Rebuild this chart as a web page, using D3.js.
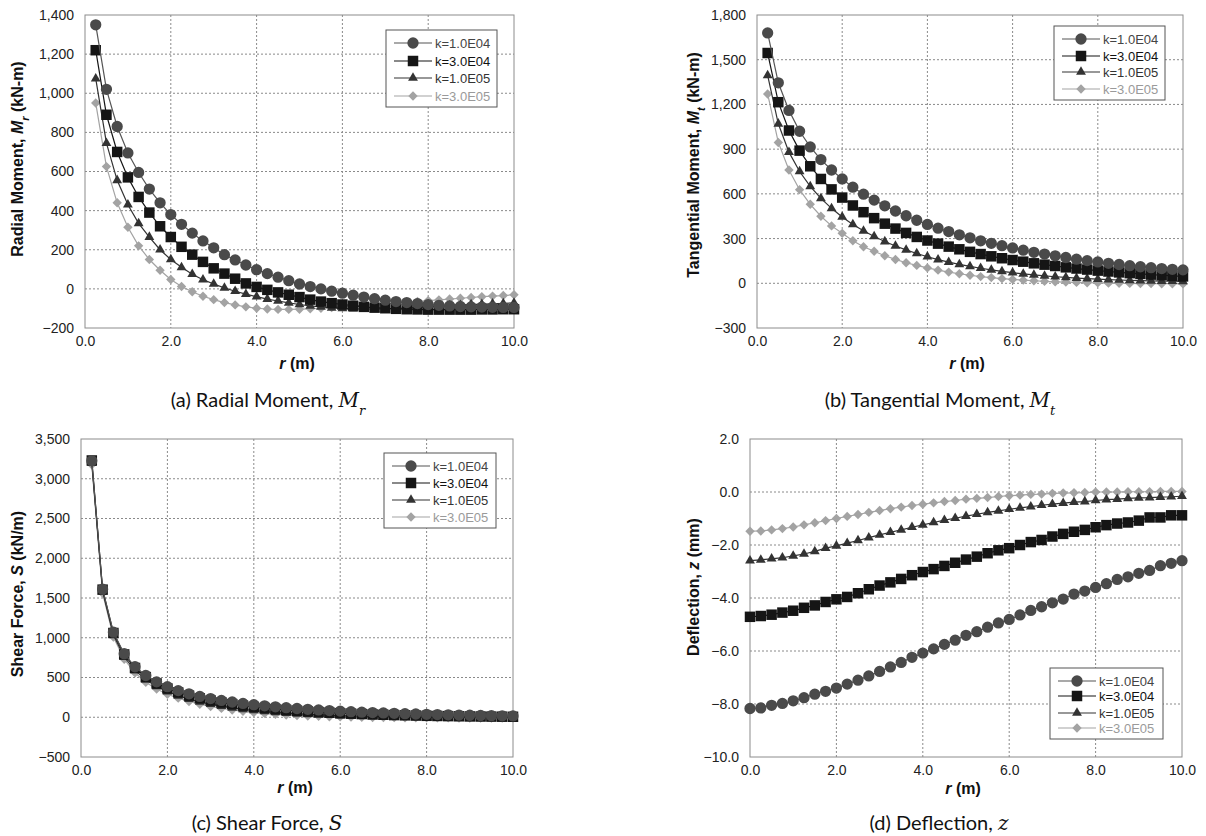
<!DOCTYPE html>
<html>
<head>
<meta charset="utf-8">
<script src="https://cdn.jsdelivr.net/npm/d3@7"></script>
<style>
  html, body { margin: 0; padding: 0; background: #fff; }
  svg { display: block; }
</style>
</head>
<body>
<svg id="chart" width="1206" height="836"></svg>
<script>
// ---------------- DATA ----------------
const seriesNames = ["k=1.0E04", "k=3.0E04", "k=1.0E05", "k=3.0E05"];

const rABC = [0.25,0.5,0.75,1.0,1.25,1.5,1.75,2.0,2.25,2.5,2.75,3.0,3.25,3.5,3.75,4.0,4.25,4.5,4.75,5.0,
              5.25,5.5,5.75,6.0,6.25,6.5,6.75,7.0,7.25,7.5,7.75,8.0,8.25,8.5,8.75,9.0,9.25,9.5,9.75,10.0];
const rD = [0.0,0.25,0.5,0.75,1.0,1.25,1.5,1.75,2.0,2.25,2.5,2.75,3.0,3.25,3.5,3.75,4.0,4.25,4.5,4.75,5.0,
            5.25,5.5,5.75,6.0,6.25,6.5,6.75,7.0,7.25,7.5,7.75,8.0,8.25,8.5,8.75,9.0,9.25,9.5,9.75,10.0];

// (a) Radial moment Mr (kN-m)
const mrK1 = [1350,1020,830,695,595,510,440,380,330,285,245,210,175,148,122,98,78,60,42,25,
              12,0,-12,-22,-32,-42,-50,-58,-65,-70,-75,-80,-84,-87,-90,-92,-93,-94,-95,-95];
const mrK2 = [1220,890,700,570,470,390,320,265,215,175,138,105,78,52,28,10,-5,-18,-30,-42,
              -55,-65,-73,-80,-86,-92,-96,-99,-102,-104,-105,-106,-106,-106,-106,-106,-105,-105,-104,-104];
const mrK3 = [1075,745,555,430,335,265,200,150,110,75,47,25,5,-12,-27,-40,-52,-62,-72,-80,
              -87,-92,-97,-100,-102,-103,-103,-102,-100,-98,-95,-92,-89,-86,-83,-80,-78,-76,-74,-72];
const mrK4 = [950,625,440,315,220,150,95,48,12,-15,-38,-55,-70,-82,-92,-99,-103,-105,-105,-104,
              -102,-99,-96,-92,-88,-84,-80,-76,-72,-68,-64,-60,-56,-52,-48,-44,-40,-37,-34,-30];

// (b) Tangential moment Mt (kN-m)
const mtK1 = [1680,1345,1160,1020,915,830,760,700,645,598,558,520,485,453,423,395,370,347,325,305,
              285,268,252,237,222,208,196,184,173,162,152,143,134,126,118,111,105,99,94,90];
const mtK2 = [1545,1215,1025,890,785,700,630,575,522,477,437,400,367,338,311,287,266,246,228,211,
              196,181,168,156,145,134,125,116,107,99,92,85,79,73,68,63,58,54,50,46];
const mtK3 = [1395,1070,880,750,650,570,503,445,395,352,314,280,250,224,200,178,159,142,127,113,
              101,90,80,71,63,56,50,44,39,35,31,28,25,22,20,18,16,15,14,13];
const mtK4 = [1270,945,760,628,530,450,385,335,285,245,215,185,160,138,120,103,88,75,64,54,
              45,38,31,26,21,17,13,10,8,6,4,3,1,0,-1,-2,-2,-3,-3,-4];

// (c) Shear force S (kN/m)
const sK1 = [3225,1610,1070,800,635,525,445,385,335,295,262,235,212,192,174,158,144,131,120,110,
             100,92,84,77,70,64,59,54,49,45,41,37,34,31,28,25,22,20,18,16];
const sK2 = [3230,1605,1060,790,620,505,425,362,312,272,238,210,186,165,146,130,116,103,92,82,
             73,65,58,51,45,40,35,31,27,24,21,18,16,14,12,10,9,8,7,6];
const sK3 = [3200,1585,1035,760,590,472,388,322,270,228,193,164,139,118,100,85,72,61,51,43,
             36,30,25,20,16,13,10,8,6,4,3,2,1,0,0,-1,-1,-1,-1,-1];
const sK4 = [3175,1560,1010,730,560,440,355,290,240,198,164,135,111,91,74,60,48,38,29,22,
             16,11,7,4,1,-1,-3,-4,-5,-6,-7,-7,-8,-8,-9,-9,-9,-10,-10,-10];

// (d) Deflection z (mm)
const zK1 = [-8.17,-8.15,-8.05,-7.98,-7.88,-7.76,-7.63,-7.52,-7.40,-7.25,-7.10,-6.94,-6.77,-6.60,-6.43,-6.24,
             -6.08,-5.92,-5.75,-5.59,-5.41,-5.27,-5.10,-4.94,-4.81,-4.64,-4.47,-4.33,-4.18,-4.04,-3.85,-3.74,
             -3.60,-3.46,-3.30,-3.20,-3.07,-2.96,-2.78,-2.69,-2.59];
const zK2 = [-4.71,-4.68,-4.63,-4.55,-4.48,-4.37,-4.28,-4.15,-4.05,-3.96,-3.82,-3.67,-3.53,-3.41,-3.28,-3.14,
             -3.02,-2.91,-2.79,-2.67,-2.55,-2.44,-2.31,-2.20,-2.12,-2.00,-1.89,-1.81,-1.68,-1.58,-1.50,-1.43,
             -1.33,-1.25,-1.19,-1.15,-1.08,-0.96,-0.96,-0.88,-0.88];
const zK3 = [-2.59,-2.56,-2.52,-2.48,-2.41,-2.34,-2.24,-2.12,-2.03,-1.93,-1.83,-1.72,-1.62,-1.52,-1.43,-1.33,
             -1.24,-1.15,-1.06,-0.99,-0.91,-0.84,-0.77,-0.71,-0.65,-0.60,-0.55,-0.50,-0.46,-0.42,-0.38,-0.36,
             -0.32,-0.29,-0.27,-0.24,-0.22,-0.21,-0.19,-0.18,-0.16];
const zK4 = [-1.48,-1.47,-1.43,-1.38,-1.32,-1.24,-1.16,-1.08,-1.00,-0.92,-0.85,-0.77,-0.70,-0.63,-0.57,-0.51,
             -0.46,-0.41,-0.36,-0.32,-0.27,-0.24,-0.21,-0.17,-0.14,-0.12,-0.09,-0.08,-0.05,-0.04,-0.03,-0.02,
             0.00,0.00,0.00,0.01,0.01,0.01,0.02,0.02,0.02];

const xTicks = [0,2,4,6,8,10];
const yTicksA = [-200,0,200,400,600,800,1000,1200,1400];
const yTicksB = [-300,0,300,600,900,1200,1500,1800];
const yTicksC = [-500,0,500,1000,1500,2000,2500,3000,3500];
const yTicksD = [-10,-8,-6,-4,-2,0,2];

// ---------------- STYLE ----------------
const styles = [
  { shape: "circle",   fill: "#4a4a4a", line: "#555555", text: "#444444", size: 100 },
  { shape: "square",   fill: "#151515", line: "#151515", text: "#111111", size: 110 },
  { shape: "triangle", fill: "#333333", line: "#333333", text: "#333333", size: 42 },
  { shape: "diamond",  fill: "#a3a3a3", line: "#a3a3a3", text: "#9a9a9a", size: 44 }
];

function symbolPath(st) {
  const t = { circle: d3.symbolCircle, square: d3.symbolSquare, triangle: d3.symbolTriangle, diamond: d3.symbolSquare }[st.shape];
  return d3.symbol().type(t).size(st.size)();
}

const svg = d3.select("#chart");
const AX_FONT = '"Liberation Sans", Arial, sans-serif';
const SERIF = "'DejaVu Serif', 'Liberation Serif', serif";

const panels = [
  { box: {x:85, y:15, w:429, h:313}, r: rABC, series: [mrK1,mrK2,mrK3,mrK4], yDom: [-200,1400], yTicks: yTicksA,
    fmt: d3.format(","), yTitle: ["Radial Moment, ", "M", "r", " (kN-m)"], yTitlePos: {x:17, y:159},
    legend: {x:386, w:111, rows:[43,61,78,96]},
    cap: ["(a) Radial Moment, ", "M", "r"], capPos: {x:268, y:400}, rPos: {x:297, y:363} },
  { box: {x:757, y:15, w:426, h:313}, r: rABC, series: [mtK1,mtK2,mtK3,mtK4], yDom: [-300,1800], yTicks: yTicksB,
    fmt: d3.format(","), yTitle: ["Tangential Moment, ", "M", "t", " (kN-m)"], yTitlePos: {x:693, y:165},
    legend: {x:1054, w:111, rows:[39,56,72,89]},
    cap: ["(b) Tangential Moment, ", "M", "t"], capPos: {x:940, y:400}, rPos: {x:967, y:363} },
  { box: {x:81, y:439, w:432, h:318}, r: rABC, series: [sK1,sK2,sK3,sK4], yDom: [-500,3500], yTicks: yTicksC,
    fmt: d3.format(","), yTitle: ["Shear Force, ", "S", "", " (kN/m)"], yTitlePos: {x:17, y:594},
    legend: {x:384, w:112, rows:[466,483,500,517]},
    cap: ["(c) Shear Force, ", "S", ""], capPos: {x:267, y:823}, rPos: {x:295, y:787} },
  { box: {x:750, y:439, w:432, h:318}, r: rD, series: [zK1,zK2,zK3,zK4], yDom: [-10,2], yTicks: yTicksD,
    fmt: d3.format(".1f"), yTitle: ["Deflection, ", "z", "", " (mm)"], yTitlePos: {x:693, y:587},
    legend: {x:1050, w:113, rows:[681,696,713,728]},
    cap: ["(d) Deflection, ", "z", ""], capPos: {x:939, y:823}, rPos: {x:963, y:788} }
];

panels.forEach(p => {
  const b = p.box;
  const x = d3.scaleLinear().domain([0,10]).range([b.x, b.x + b.w]);
  const y = d3.scaleLinear().domain(p.yDom).range([b.y + b.h, b.y]);
  const g = svg.append("g");

  // gridlines
  g.append("g").selectAll("line").data(xTicks.slice(1, -1)).join("line")
    .attr("x1", d => x(d)).attr("x2", d => x(d)).attr("y1", b.y).attr("y2", b.y + b.h)
    .attr("stroke", "#8a8a8a").attr("stroke-width", 1).attr("stroke-dasharray", "2,2");
  g.append("g").selectAll("line").data(p.yTicks.slice(1, -1)).join("line")
    .attr("y1", d => y(d)).attr("y2", d => y(d)).attr("x1", b.x).attr("x2", b.x + b.w)
    .attr("stroke", "#8a8a8a").attr("stroke-width", 1).attr("stroke-dasharray", "2,2");

  // frame
  g.append("rect").attr("x", b.x).attr("y", b.y).attr("width", b.w).attr("height", b.h)
    .attr("fill", "none").attr("stroke", "#8c8c8c").attr("stroke-width", 1);

  // axes
  const xAxis = d3.axisBottom(x).tickValues(xTicks).tickSize(0).tickPadding(8).tickFormat(d3.format(".1f"));
  const gx = g.append("g").attr("transform", `translate(0,${b.y + b.h})`).call(xAxis);
  gx.select(".domain").remove();
  gx.selectAll("text").attr("font-size", 14).attr("fill", "#222").attr("font-family", AX_FONT);

  const yAxis = d3.axisLeft(y).tickValues(p.yTicks).tickSize(0).tickPadding(11).tickFormat(p.fmt);
  const gy = g.append("g").attr("transform", `translate(${b.x},0)`).call(yAxis);
  gy.select(".domain").remove();
  gy.selectAll("text").attr("font-size", 14).attr("fill", "#222").attr("font-family", AX_FONT);

  // series (lightest first so darker ones sit on top)
  [3, 2, 1, 0].forEach(i => {
    const st = styles[i];
    const vals = p.series[i];
    const pts = p.r.map((r, j) => [r, vals[j]]);
    g.append("path").datum(pts)
      .attr("d", d3.line().x(d => x(d[0])).y(d => y(d[1])))
      .attr("fill", "none").attr("stroke", st.line).attr("stroke-width", 1.2);
    g.append("g").selectAll("path").data(pts).join("path")
      .attr("d", symbolPath(st))
      .attr("transform", d => `translate(${x(d[0])},${y(d[1])})${st.shape === "diamond" ? " rotate(45)" : ""}`)
      .attr("fill", st.fill);
  });

  // legend
  const L = p.legend;
  const lh = L.rows[3] - L.rows[0] + 24;
  g.append("rect").attr("x", L.x).attr("y", L.rows[0] - 13).attr("width", L.w).attr("height", lh)
    .attr("fill", "#fff").attr("stroke", "#555").attr("stroke-width", 1);
  seriesNames.forEach((name, i) => {
    const st = styles[i];
    const yy = L.rows[i];
    g.append("line").attr("x1", L.x + 8).attr("x2", L.x + 46).attr("y1", yy).attr("y2", yy)
      .attr("stroke", st.line).attr("stroke-width", 1.2);
    g.append("path").attr("d", symbolPath(st))
      .attr("transform", `translate(${L.x + 27},${yy})${st.shape === "diamond" ? " rotate(45)" : ""}`)
      .attr("fill", st.fill);
    g.append("text").attr("x", L.x + 49).attr("y", yy).attr("dy", "0.35em")
      .attr("font-family", AX_FONT).attr("font-size", 13).attr("fill", st.text).text(name);
  });

  // y-axis title
  const yt = g.append("text").attr("transform", `translate(${p.yTitlePos.x},${p.yTitlePos.y}) rotate(-90)`)
    .attr("text-anchor", "middle").attr("dy", "0.35em")
    .attr("font-family", AX_FONT).attr("font-size", 16).attr("font-weight", "bold").attr("fill", "#111");
  yt.append("tspan").text(p.yTitle[0]);
  yt.append("tspan").attr("font-style", "italic").text(p.yTitle[1]);
  if (p.yTitle[2]) yt.append("tspan").attr("font-style", "italic").attr("font-size", 11).attr("baseline-shift", "sub").text(p.yTitle[2]);
  yt.append("tspan").text(p.yTitle[3]);

  // x-axis title
  const xt = g.append("text").attr("x", p.rPos.x).attr("y", p.rPos.y).attr("dy", "0.35em")
    .attr("text-anchor", "middle").attr("font-family", AX_FONT).attr("font-size", 16)
    .attr("font-weight", "bold").attr("fill", "#111");
  xt.append("tspan").attr("font-style", "italic").text("r");
  xt.append("tspan").text(" (m)");

  // caption
  const ct = g.append("text").attr("x", p.capPos.x).attr("y", p.capPos.y).attr("dy", "0.35em")
    .attr("text-anchor", "middle").attr("font-family", "Lato, 'Open Sans', sans-serif").attr("font-size", 20).attr("fill", "#111");
  ct.append("tspan").text(p.cap[0]);
  ct.append("tspan").attr("font-family", SERIF).attr("font-style", "italic").text(p.cap[1]);
  if (p.cap[2]) ct.append("tspan").attr("font-family", SERIF).attr("font-style", "italic")
    .attr("font-size", 13).attr("baseline-shift", "sub").text(p.cap[2]);
});
</script>
</body>
</html>
